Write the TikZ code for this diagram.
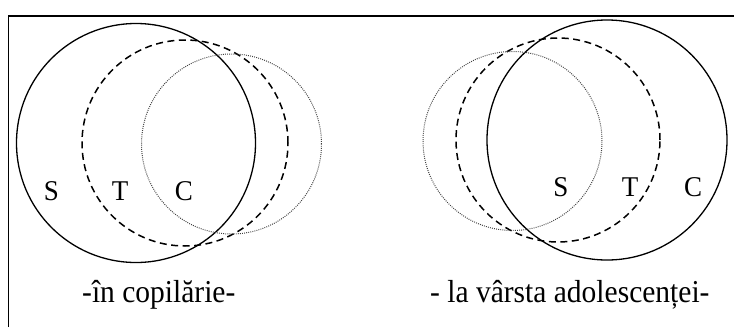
\documentclass[tikz,border=0pt]{standalone}
\usepackage{fontspec}
\setmainfont{Liberation Serif}
\begin{document}
\begin{tikzpicture}[x=1pt,y=-1pt,
  ring/.style={circle,inner sep=0pt,minimum size=#1},
  solidring/.style={ring=#1,draw,line width=1.3pt},
  dashring/.style={ring=#1,draw,line width=1.5pt,dash pattern=on 7pt off 4.5pt},
  dotring/.style={ring=#1,draw=black!75,line width=1pt,dash pattern=on 0.9pt off 1.2pt},
  lab/.style={font=\fontsize{27}{30}\selectfont,anchor=base,inner sep=0pt,yscale=1.06,transform shape},
  captxt/.style={font=\fontsize{29.5}{33}\selectfont,anchor=base west,inner sep=0pt,yscale=1.08,transform shape}]
\useasboundingbox (0,0) rectangle (734,327);
\coordinate (fb) at (8.7,327);
\coordinate (fc) at (8.7,16);
\coordinate (fr) at (734,16);
\draw[line width=1.5pt] (fb) -- (fc) -- (fr);
% left diagram
\node[solidring=239pt] (ls) at (136,143) {};
\node[dashring=206pt] (lt) at (185,143) {};
\node[dotring=180pt] (lc) at (231.5,144) {};
\node[lab] (lS) at (51.5,200) {S};
\node[lab] (lT) at (120,200) {T};
\node[lab] (lC) at (184,200) {C};
\node[captxt] (lcap) at (82,302) {-în copilărie-};
% right diagram
\node[solidring=240pt] (rc) at (607,140) {};
\node[dashring=204pt] (rt) at (558,140) {};
\node[dotring=179pt] (rs) at (512.5,141) {};
\node[lab] (rS) at (561,196) {S};
\node[lab] (rT) at (630,196) {T};
\node[lab] (rC) at (693,196) {C};
\node[captxt] (rcap) at (430,302) {- la vârsta adolescenței-};
\end{tikzpicture}
\end{document}
